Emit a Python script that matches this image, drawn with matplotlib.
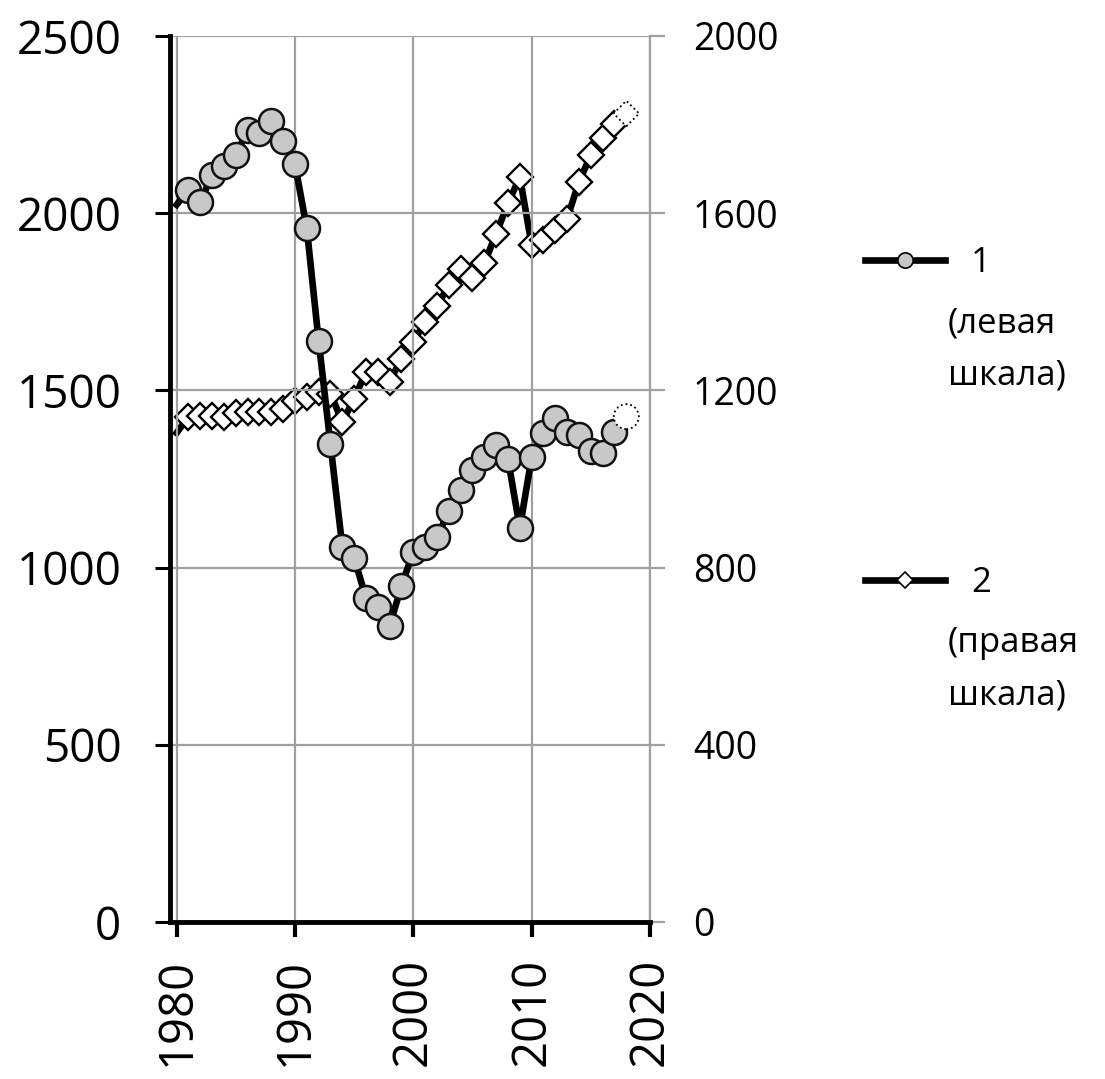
import matplotlib
matplotlib.use("Agg")
import matplotlib.pyplot as plt
from matplotlib.lines import Line2D

plt.rcParams['font.family'] = ['Open Sans', 'DejaVu Sans']

# ---- data ----
years1 = list(range(1980, 2018))
series1 = [2024, 2065, 2032, 2107, 2133, 2164, 2234, 2225, 2261, 2204, 2139,
           1957, 1640, 1348, 1059, 1028, 914, 890, 836, 948, 1045,
           1059, 1085, 1160, 1219, 1274, 1311, 1346, 1306, 1112, 1311,
           1381, 1423, 1384, 1374, 1330, 1324, 1384]
years2 = list(range(1980, 2018))
series2 = [1104, 1141, 1143, 1143, 1141, 1148, 1152, 1152, 1152, 1157, 1175,
           1186, 1197, 1193, 1129, 1181, 1242, 1242, 1220, 1272, 1310,
           1354, 1390, 1438, 1475, 1453, 1487, 1554, 1622, 1682, 1528,
           1539, 1562, 1588, 1671, 1731, 1769, 1801]
est_year = [2018]
est1 = [1426]
est2 = [1825]

left_ticks = [0, 500, 1000, 1500, 2000, 2500]
right_ticks = [0, 400, 800, 1200, 1600, 2000]
x_ticks = [1980, 1990, 2000, 2010, 2020]
legend_labels = ['1', '2']
legend_notes = [['(левая', 'шкала)'], ['(правая', 'шкала)']]

W, H = 1105, 1079
fig = plt.figure(figsize=(W / 100, H / 100), dpi=100)
ax = fig.add_axes([170 / W, 1 - 922 / H, (650 - 170) / W, (922 - 36) / H])
ax2 = ax.twinx()

grid_c = '#a0a0a0'
ax.set_xlim(1979.44, 2020)
ax.set_ylim(0, 2500)
ax2.set_ylim(0, 2000)

ax.set_xticks(x_ticks)
ax.set_yticks(left_ticks)
ax2.set_yticks(right_ticks)
ax.grid(True, color=grid_c, linewidth=1.6)
ax.set_axisbelow(True)

for s in ['top', 'right']:
    ax.spines[s].set_visible(False)
for s in ['top', 'left', 'bottom']:
    ax2.spines[s].set_visible(False)
ax2.spines['right'].set_color(grid_c)
ax2.spines['right'].set_linewidth(1.6)
ax.spines['left'].set_linewidth(3.5)
ax.spines['bottom'].set_linewidth(3.5)

ax.tick_params(axis='y', direction='out', length=11, width=2.2, color='black',
               labelsize=33, pad=24)
ax.tick_params(axis='x', direction='out', length=11, width=3, color='black',
               labelsize=34, pad=15, labelrotation=90)
ax2.tick_params(axis='y', direction='out', length=11, width=1.6, color=grid_c,
                labelsize=27, pad=20, labelcolor='black')

# series 2 (right scale)
ax2.plot(years2, series2, color='black', linewidth=4.8, marker='D',
         markersize=13, markerfacecolor='white', markeredgecolor='black',
         markeredgewidth=1.7, markevery=slice(1, None), zorder=3)
ax2.scatter(est_year, est2, marker='D', s=13 ** 2, facecolors='white',
            edgecolors='black', linewidths=1.3, linestyles=':', zorder=3)

# series 1 (left scale) on top
ax.set_zorder(ax2.get_zorder() + 1)
ax.patch.set_visible(False)
ax.plot(years1, series1, color='black', linewidth=4.8, marker='o',
        markersize=18, markerfacecolor='#c8c8c8', markeredgecolor='#111111',
        markeredgewidth=1.8, markevery=slice(1, None), zorder=3)
ax.scatter(est_year, est1, marker='o', s=18 ** 2, facecolors='white',
           edgecolors='black', linewidths=1.3, linestyles=':', zorder=3)

# legend
h1 = Line2D([], [], color='black', linewidth=4.8, marker='o', markersize=11,
            markerfacecolor='#c8c8c8', markeredgecolor='black', markeredgewidth=1.2)
h2 = Line2D([], [], color='black', linewidth=4.8, marker='D', markersize=8.5,
            markerfacecolor='white', markeredgecolor='black', markeredgewidth=1.2)
legend_y = [263, 583]
for h, lab, ly in zip([h1, h2], legend_labels, legend_y):
    fig.legend(handles=[h], labels=[lab], loc='center left',
               bbox_to_anchor=(865 / W, 1 - ly / H), frameon=False,
               fontsize=25, handlelength=2.3, handletextpad=0.75,
               borderpad=0, borderaxespad=0)
for notes, ly in zip(legend_notes, legend_y):
    fig.text(948 / W, 1 - (ly + 60) / H, notes[0], fontsize=25, va='center', ha='left')
    fig.text(948 / W, 1 - (ly + 113) / H, notes[1], fontsize=25, va='center', ha='left')

fig.savefig('out.png', dpi=100)
